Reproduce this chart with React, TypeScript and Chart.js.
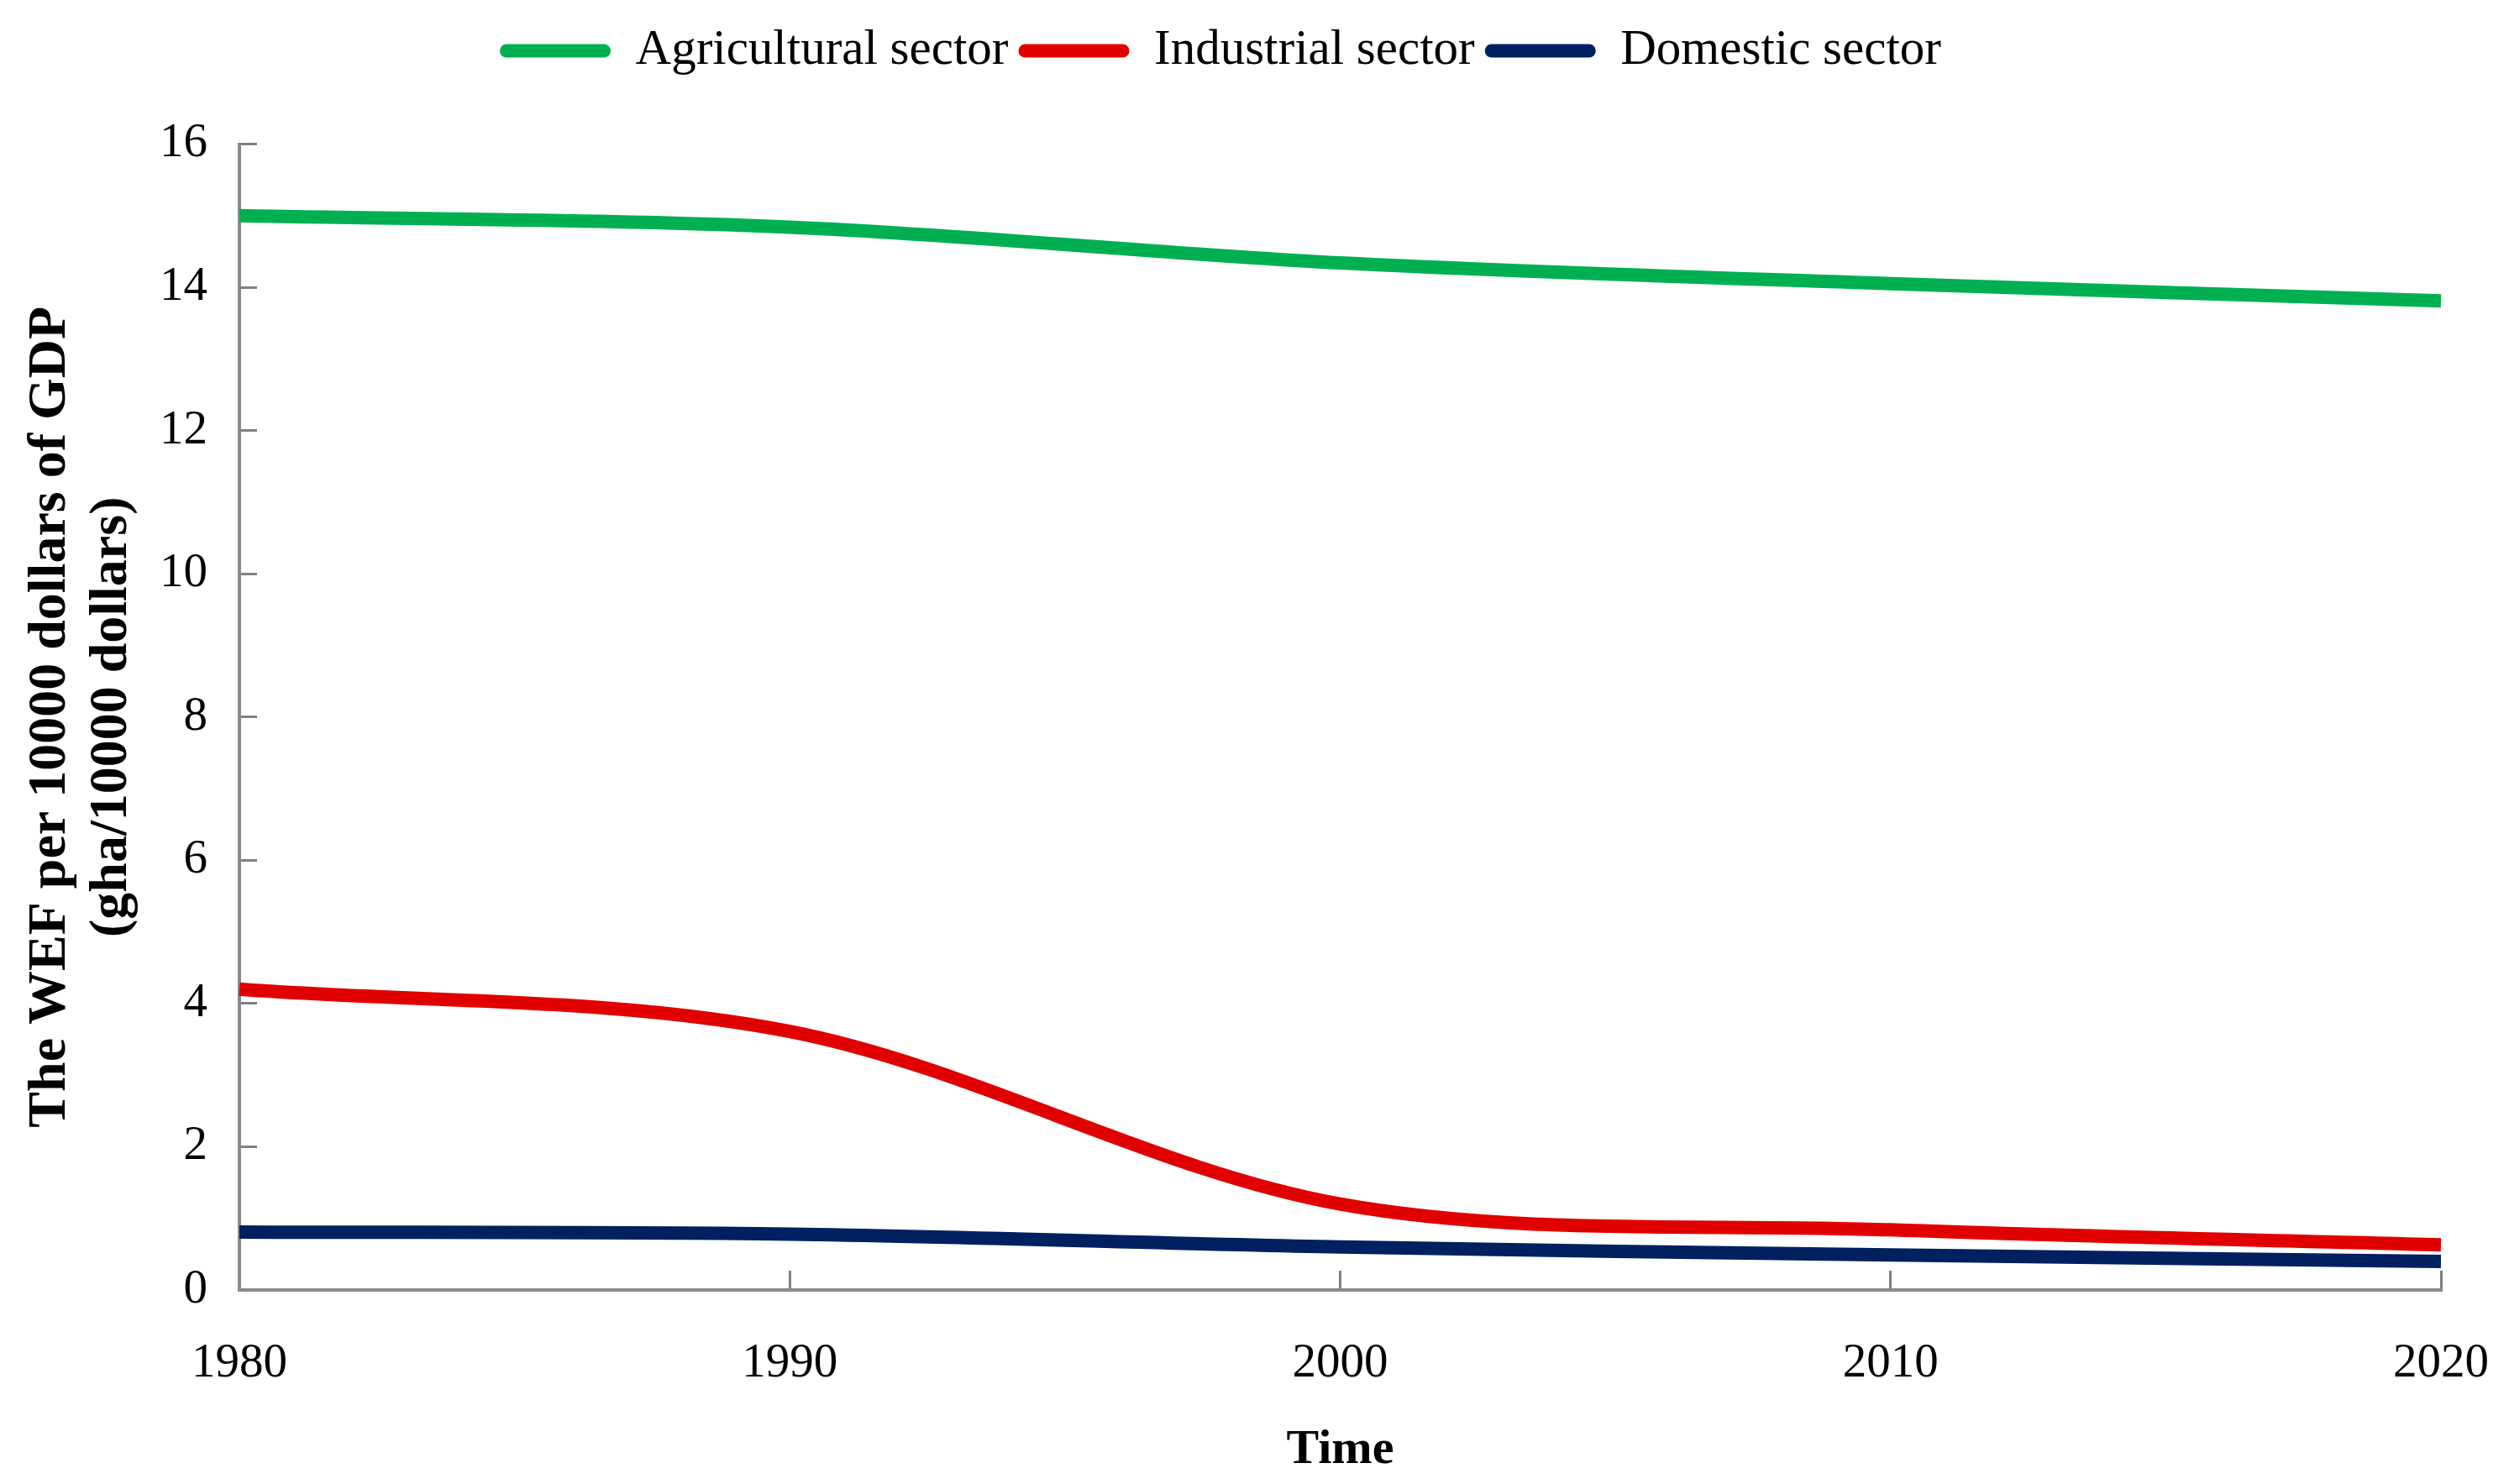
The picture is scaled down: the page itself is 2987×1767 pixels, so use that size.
import React, { useEffect, useRef } from 'react';
import { Chart, registerables } from 'chart.js';

Chart.register(...registerables);

const years = ['1980', '1990', '2000', '2010', '2020'];
const agricultural = [15.0, 14.84, 14.34, 14.05, 13.81];
const industrial = [4.2, 3.61, 1.2, 0.84, 0.63];
const domestic = [0.81, 0.78, 0.6, 0.49, 0.4];
const seriesNames = ['Agricultural sector', 'Industrial sector', 'Domestic sector'];
const seriesColors = ['#00B050', '#E00000', '#002060'];
const yTitleLines = ['The WEF per 10000 dollars of GDP', '(gha/10000 dollars)'];
const xTitle = 'Time';

const W = 2987;
const H = 1767;
const SERIF = "'Liberation Serif', 'Times New Roman', Times, serif";

export default function App() {
  const ref = useRef<HTMLCanvasElement>(null);

  useEffect(() => {
    document.body.style.margin = '0';
    const canvas = ref.current as HTMLCanvasElement;
    const values = [agricultural, industrial, domestic];
    const chart = new Chart(canvas, {
      type: 'line',
      data: {
        labels: years,
        datasets: values.map((d, i) => ({
          label: seriesNames[i],
          data: d,
          borderColor: seriesColors[i],
          backgroundColor: seriesColors[i],
          borderWidth: 16,
          pointRadius: 0,
          pointHoverRadius: 0,
          tension: 0.33,
          fill: false,
        })),
      },
      options: {
        animation: false,
        responsive: false,
        devicePixelRatio: 1,
        events: [],
        layout: { padding: { top: 19, right: 81, left: 0, bottom: 0 } },
        plugins: {
          legend: {
            position: 'top',
            labels: {
              font: { family: SERIF, size: 59 },
              color: '#000',
              boxWidth: 132,
              boxHeight: 16,
              padding: 12,
              useBorderRadius: true,
              borderRadius: 8,
              generateLabels: (c: any) =>
                (Chart.defaults.plugins.legend.labels as any)
                  .generateLabels(c)
                  .map((l: any) => ({ ...l, lineWidth: 0 })),
            },
          },
          subtitle: {
            display: true,
            text: '',
            weight: 500,
            font: { size: 10, lineHeight: 1 },
            padding: { top: 0, bottom: 61.5 },
          } as any,
          tooltip: { enabled: false },
        },
        scales: {
          x: {
            type: 'category',
            offset: false,
            grid: {
              drawOnChartArea: false,
              drawTicks: true,
              tickLength: -23,
              color: '#808080',
              lineWidth: 3,
              offset: false,
            },
            border: { display: true, color: '#8a8a8a', width: 4 },
            ticks: {
              font: { family: SERIF, size: 57 },
              color: '#000',
              padding: 77,
              maxRotation: 0,
              autoSkip: false,
            },
            title: {
              display: true,
              text: xTitle,
              font: { family: SERIF, size: 58, weight: 'bold' },
              color: '#000',
              padding: { top: 0, bottom: 5 },
            },
            afterFit: (s: any) => {
              s.height = 231;
              s.paddingLeft = 0;
              s.paddingRight = 0;
            },
          },
          y: {
            min: 0,
            max: 16,
            grid: {
              drawOnChartArea: false,
              drawTicks: true,
              tickLength: -21,
              color: '#808080',
              lineWidth: 3,
            },
            border: { display: true, color: '#8a8a8a', width: 4 },
            ticks: {
              stepSize: 2,
              font: { family: SERIF, size: 57 },
              color: '#000',
              padding: 59,
            },
            title: {
              display: true,
              text: yTitleLines,
              font: { family: SERIF, size: 64, weight: 'bold', lineHeight: 1.14 },
              color: '#000',
              padding: { top: 24, bottom: 0 },
            },
            afterFit: (s: any) => {
              s.width = 285;
            },
          },
        },
      } as any,
    });
    return () => chart.destroy();
  }, []);

  return <canvas ref={ref} width={W} height={H} style={{ display: 'block', width: W, height: H }} />;
}
